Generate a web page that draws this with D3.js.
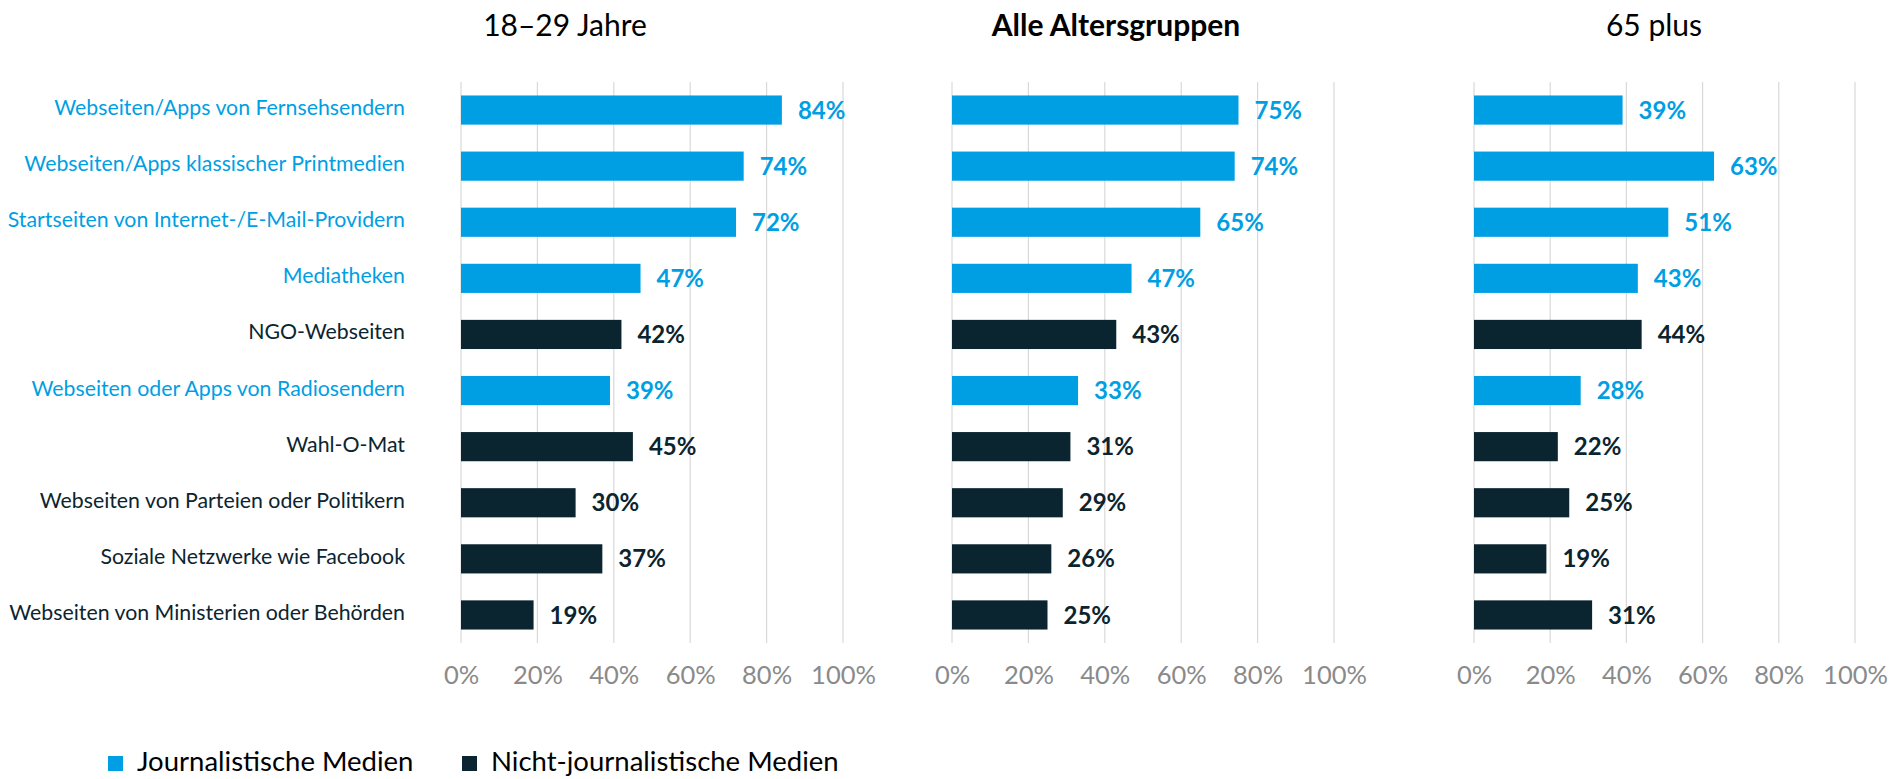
<!DOCTYPE html>
<html><head><meta charset="utf-8">
<script src="https://cdn.jsdelivr.net/npm/d3@7"></script>
<style>body{margin:0;background:#fff}svg{display:block}text{font-family:Lato,"Open Sans",sans-serif}</style>
</head><body>
<svg id="c" width="1892" height="779"></svg>
<script>
const categories = ["Webseiten/Apps von Fernsehsendern","Webseiten/Apps klassischer Printmedien","Startseiten von Internet-/E-Mail-Providern","Mediatheken","NGO-Webseiten","Webseiten oder Apps von Radiosendern","Wahl-O-Mat","Webseiten von Parteien oder Politikern","Soziale Netzwerke wie Facebook","Webseiten von Ministerien oder Behörden"];
const mediaType = ["J","J","J","J","N","J","N","N","N","N"];
const groups = ["18–29 Jahre","Alle Altersgruppen","65 plus"];
const values1829 = [84,74,72,47,42,39,45,30,37,19];
const valuesAll = [75,74,65,47,43,33,31,29,26,25];
const values65 = [39,63,51,43,44,28,22,25,19,31];
const tickValues = [0,20,40,60,80,100];
const legendLabels = ["Journalistische Medien","Nicht-journalistische Medien"];

const BLUE = "#009fe3", DARK = "#0b2530", GRID = "#d9d9d9", TICK = "#8a8a8a";
const color = t => t === "J" ? BLUE : DARK;
const svg = d3.select("#c");

const panels = [
  {x0:461, x1:843, titleX:565, bold:false, vals:values1829},
  {x0:952, x1:1334, titleX:1116, bold:true, vals:valuesAll},
  {x0:1474, x1:1855, titleX:1654, bold:false, vals:values65}
];
const y = d3.scaleBand().domain(categories).range([82,643]).paddingInner(0.48).paddingOuter(0.24);

panels.forEach((p,pi) => {
  const x = d3.scaleLinear().domain([0,100]).range([p.x0,p.x1]);
  const g = svg.append("g");
  g.selectAll("line.grid").data(tickValues).join("line")
    .attr("x1",d=>x(d)).attr("x2",d=>x(d)).attr("y1",82).attr("y2",643)
    .attr("stroke",GRID).attr("stroke-width",1.2);
  const ax = d3.axisBottom(x).tickValues(tickValues).tickFormat(d=>d+"%").tickSize(0).tickPadding(0);
  const axg = g.append("g").attr("transform","translate(0,675)").call(ax);
  axg.select(".domain").remove();
  axg.selectAll("text").attr("fill",TICK).style("font-size","25.5px").style("font-family","Lato").attr("dy","0.35em").attr("y",0);
  g.selectAll("rect").data(categories).join("rect")
    .attr("x",x(0)).attr("y",d=>y(d)).attr("height",y.bandwidth())
    .attr("width",(d,i)=>x(p.vals[i])-x(0)).attr("fill",(d,i)=>color(mediaType[i]));
  g.selectAll("text.val").data(categories).join("text").attr("class","val")
    .attr("x",(d,i)=>x(p.vals[i])+16).attr("y",d=>y(d)+y.bandwidth()/2).attr("dy","0.36em")
    .attr("fill",(d,i)=>color(mediaType[i])).style("font-size","24px").style("font-weight","bold")
    .text((d,i)=>p.vals[i]+"%");
  svg.append("text").attr("x",p.titleX).attr("y",36).attr("text-anchor","middle")
    .style("font-size","30px").style("font-weight",p.bold?"bold":"normal").attr("fill","#000")
    .text(groups[pi]);
});

svg.append("g").selectAll("text").data(categories).join("text")
  .attr("x",405).attr("y",d=>y(d)+y.bandwidth()/2+5).attr("text-anchor","end")
  .attr("fill",(d,i)=>color(mediaType[i])).style("font-size","21.3px").text(d=>d);

const lg = svg.append("g");
const legX = [108,462];
legendLabels.forEach((l,i)=>{
  lg.append("rect").attr("x",legX[i]).attr("y",756).attr("width",15).attr("height",15).attr("fill",i===0?BLUE:DARK);
  lg.append("text").attr("x",legX[i]+29).attr("y",771).style("font-size","27.5px").attr("fill","#000").text(l);
});
</script>
</body></html>
